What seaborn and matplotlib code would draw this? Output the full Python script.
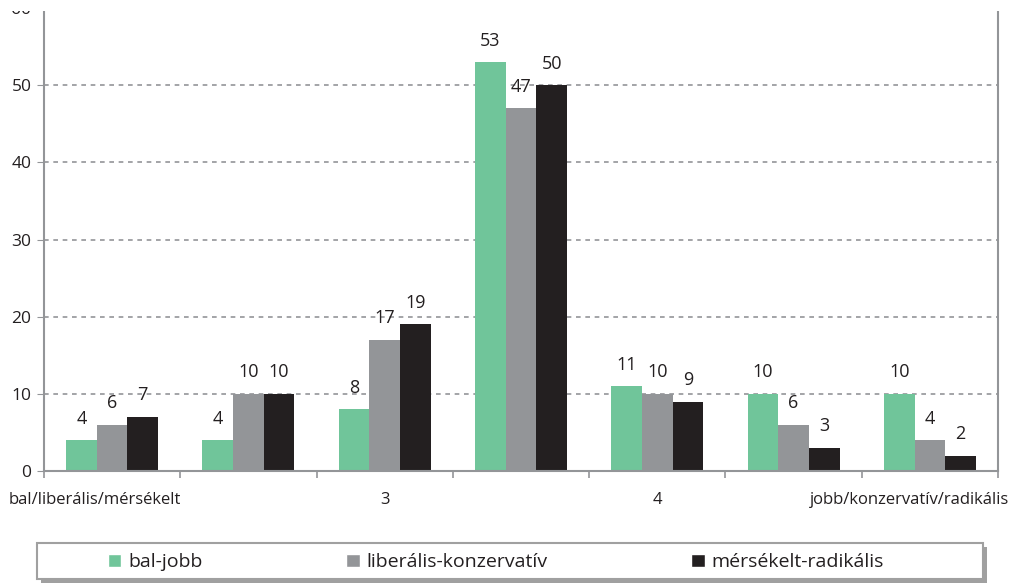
import matplotlib
matplotlib.use("Agg")
import matplotlib.pyplot as plt
import matplotlib.transforms as mtransforms
import seaborn as sns
import pandas as pd
from matplotlib.patches import Rectangle

categories = ["1", "2", "3", "4", "5", "6", "7"]
tick_labels = ["bal/liberális/mérsékelt", "", "3", "", "4", "", "jobb/konzervatív/radikális"]
series_names = ["bal-jobb", "liberális-konzervatív", "mérsékelt-radikális"]
bal_jobb = [4, 4, 8, 53, 11, 10, 10]
liberalis_konzervativ = [6, 10, 17, 47, 10, 6, 4]
merseklet_radikalis = [7, 10, 19, 50, 9, 3, 2]
colors = ["#70C59A", "#939598", "#231F20"]

rows = []
for name, vals in zip(series_names, [bal_jobb, liberalis_konzervativ, merseklet_radikalis]):
    for c, v in zip(categories, vals):
        rows.append({"cat": c, "value": v, "series": name})
df = pd.DataFrame(rows)

sns.set_style("white")
plt.rcParams["font.family"] = ["Open Sans", "DejaVu Sans"]

fig = plt.figure(figsize=(10.23, 5.83), dpi=100)
W, H = 1023, 583
ax = fig.add_axes([44 / W, 1 - 471 / H, (998 - 44) / W, (471 - 8) / H])

sns.barplot(data=df, x="cat", y="value", hue="series", palette=colors,
            width=0.675, ax=ax, saturation=1, legend=False, gap=0,
            edgecolor="none", linewidth=0)

for cont in ax.containers:
    ax.bar_label(cont, padding=9, fontsize=13, color="#231F20")

ax.set_xlim(-0.5, 6.5)
ax.set_ylim(0, 60)
ax.set_yticks(range(0, 61, 10))
ax.tick_params(axis="y", labelsize=12.5, length=5, color="#939598", direction="out",
               left=True, labelcolor="#231F20", pad=4)
ax.set_xticks(range(7))
ax.set_xticklabels(tick_labels, fontsize=12, color="#231F20")
ax.tick_params(axis="x", which="major", length=0, pad=15)
ax.set_xticks([i - 0.5 for i in range(8)], minor=True)
ax.tick_params(axis="x", which="minor", length=5, color="#939598", width=1.2, bottom=True)
ax.set_xlabel("")
ax.set_ylabel("")
ax.yaxis.grid(True, linestyle=(0, (2.8, 2.8)), color="#939598", linewidth=1.2)
ax.set_axisbelow(True)
for s in ["left", "bottom", "right"]:
    ax.spines[s].set_visible(True)
    ax.spines[s].set_color("#939598")
    ax.spines[s].set_linewidth(1.5)
ax.spines["top"].set_visible(False)

# long end labels are nudged inward as in the reference
xlabels = ax.get_xticklabels()
shifts = {0: -17, 6: -20}
for i, lab in enumerate(xlabels):
    if i in shifts:
        lab.set_transform(lab.get_transform() +
                          mtransforms.ScaledTranslation(shifts[i] / 100, 0, fig.dpi_scale_trans))

# top of the reference image is cropped
fig.add_artist(Rectangle((0, 1 - 11 / H), 1, 11 / H, transform=fig.transFigure,
                         facecolor="white", edgecolor="none", zorder=10))

# legend frame with shadow
shadow = Rectangle((41 / W, 1 - 583 / H), (983 - 37) / W, (579 - 543) / H,
                   transform=fig.transFigure, facecolor="#a0a0a0", edgecolor="none")
box = Rectangle((37 / W, 1 - 579 / H), (983 - 37) / W, (579 - 543) / H,
                transform=fig.transFigure, facecolor="white", edgecolor="#a0a0a0", linewidth=1.5)
fig.add_artist(shadow)
fig.add_artist(box)

handles = [Rectangle((0, 0), 1, 1, facecolor=c) for c in colors]
leg = fig.legend(handles, series_names, loc="center left", bbox_to_anchor=(108 / W, 1 - 562 / H),
                 ncol=3, frameon=False, fontsize=14, handlelength=0.68, handleheight=0.68,
                 handletextpad=0.35, columnspacing=7.4, borderpad=0, borderaxespad=0)
for t in leg.get_texts():
    t.set_color("#231F20")

fig.savefig("out.png", dpi=100)
